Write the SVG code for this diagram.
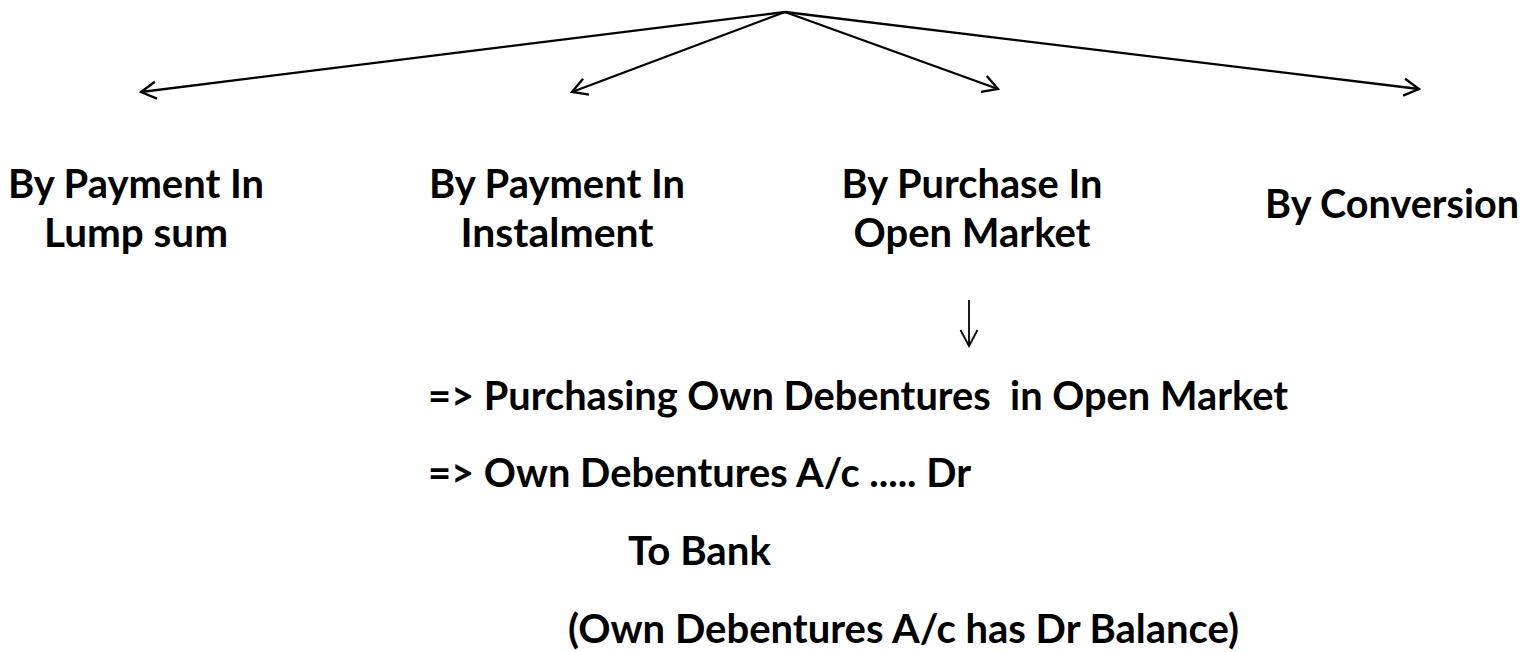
<svg xmlns="http://www.w3.org/2000/svg" width="1528" height="652" viewBox="0 0 1528 652">
<defs>
<marker id="ah" viewBox="0 0 20 20" refX="18" refY="10" markerWidth="20" markerHeight="20" markerUnits="userSpaceOnUse" orient="auto">
<path d="M3,1.5 L18,10 L3,18.5" fill="none" stroke="#000" stroke-width="2.3"/>
</marker>
<marker id="ah2" viewBox="0 0 20 20" refX="18" refY="10" markerWidth="20" markerHeight="20" markerUnits="userSpaceOnUse" orient="auto">
<path d="M2,1.5 L18,10 L2,18.5" fill="none" stroke="#000" stroke-width="1.8"/>
</marker>
<style>
.t{font-family:Lato,"Open Sans","Liberation Sans",sans-serif;font-weight:700;font-size:40px;fill:#000}
.c{stroke:#000;stroke-width:2.3;fill:none}
</style>
</defs>
<rect width="1528" height="652" fill="#fff"/>
<g id="connectors">
<line class="c" x1="785" y1="12" x2="141" y2="92" marker-end="url(#ah)"/>
<line class="c" x1="785" y1="12" x2="572" y2="92" marker-end="url(#ah)"/>
<line class="c" x1="785" y1="12" x2="998" y2="89" marker-end="url(#ah)"/>
<line class="c" x1="785" y1="12" x2="1419" y2="89" marker-end="url(#ah)"/>
<line x1="969" y1="300" x2="969" y2="346" stroke="#000" stroke-width="1.8" marker-end="url(#ah2)"/>
</g>
<g id="n1"><text class="t" x="136" y="198" text-anchor="middle" textLength="256" lengthAdjust="spacingAndGlyphs">By Payment In</text><text class="t" x="136" y="247" text-anchor="middle" textLength="184" lengthAdjust="spacingAndGlyphs">Lump sum</text></g>
<g id="n2"><text class="t" x="557" y="198" text-anchor="middle" textLength="256" lengthAdjust="spacingAndGlyphs">By Payment In</text><text class="t" x="557" y="247" text-anchor="middle" textLength="193" lengthAdjust="spacingAndGlyphs">Instalment</text></g>
<g id="n3"><text class="t" x="972" y="198" text-anchor="middle" textLength="261" lengthAdjust="spacingAndGlyphs">By Purchase In</text><text class="t" x="972" y="247" text-anchor="middle" textLength="237" lengthAdjust="spacingAndGlyphs">Open Market</text></g>
<g id="n4"><text class="t" x="1392" y="218" text-anchor="middle" textLength="254" lengthAdjust="spacingAndGlyphs">By Conversion</text></g>
<g id="n5">
<text class="t" x="428" y="410" xml:space="preserve" textLength="860" lengthAdjust="spacingAndGlyphs">=&gt; Purchasing Own Debentures  in Open Market</text>
<text class="t" x="428" y="487" textLength="543" lengthAdjust="spacingAndGlyphs">=&gt; Own Debentures A/c ..... Dr</text>
<text class="t" x="628" y="565" textLength="143" lengthAdjust="spacingAndGlyphs">To Bank</text>
<text class="t" x="568" y="643" textLength="671" lengthAdjust="spacingAndGlyphs">(Own Debentures A/c has Dr Balance)</text>
</g>
</svg>
